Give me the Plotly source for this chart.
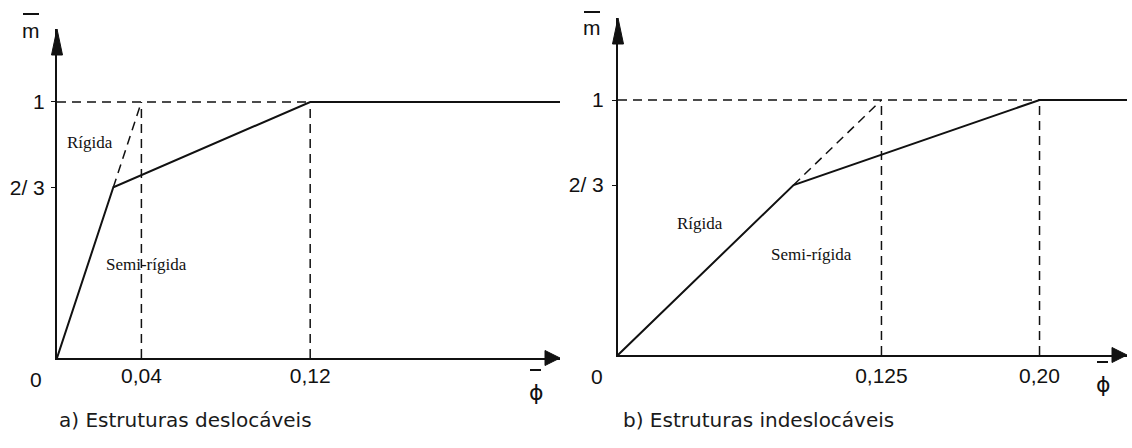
import plotly.graph_objects as go

W, H = 1132, 448

# ---- data -------------------------------------------------------------
# relative moment m̄ levels and their tick labels (shared by both panels)
m_ticks = [2 / 3, 1]
m_tick_text = ["2/ 3", "1"]

# a) sway frames
a_phi_ticks = [0.04, 0.12]
a_phi_tick_text = ["0,04", "0,12"]
a_semi_phi = [0, 0.0267, 0.12, 0.2384]      # semi-rigid / flexible boundary
a_semi_m = [0, 2 / 3, 1, 1]
a_rigid_phi = [0.0267, 0.04]                # rigid boundary beyond 2/3
a_rigid_m = [2 / 3, 1]
a_m_max = 1.285

# b) non-sway frames
b_phi_ticks = [0.125, 0.20]
b_phi_tick_text = ["0,125", "0,20"]
b_semi_phi = [0, 0.0833, 0.20, 0.2415]
b_semi_m = [0, 2 / 3, 1, 1]
b_rigid_phi = [0.0833, 0.125]
b_rigid_m = [2 / 3, 1]
b_m_max = 1.3216

captions = ["a) Estruturas deslocáveis", "b) Estruturas indeslocáveis"]
zone_labels = ["Rígida", "Semi-rígida"]

INK = "#111111"
TICK_FONT = dict(family="Liberation Sans", size=21, color=INK)
ZONE_FONT = dict(family="Liberation Serif", size=17, color=INK)
CAP_FONT = dict(family="DejaVu Sans", size=20, color="#1a1a1a")
DASH = dict(color=INK, width=1.5, dash="9px,6px")

# subplot frames (paper fractions)
a_xdom, a_ydom = [57 / W, 560 / W], [90 / H, 419 / H]
b_xdom, b_ydom = [618 / W, 1127 / W], [93 / H, 430 / H]

fig = go.Figure()


def add_panel(xr, yr, phi_ticks, semi_phi, semi_m, rigid_phi, rigid_m):
    # solid boundary curve
    fig.add_trace(go.Scatter(x=semi_phi, y=semi_m, xaxis=xr, yaxis=yr,
                             mode="lines", line=dict(color=INK, width=2),
                             hoverinfo="skip", showlegend=False))
    # dashed continuation of the rigid limit
    fig.add_trace(go.Scatter(x=rigid_phi, y=rigid_m, xaxis=xr, yaxis=yr,
                             mode="lines", line=DASH,
                             hoverinfo="skip", showlegend=False))
    # dashed reference line m̄ = 1 up to the last limit
    fig.add_trace(go.Scatter(x=[0, phi_ticks[-1]], y=[m_ticks[-1]] * 2,
                             xaxis=xr, yaxis=yr, mode="lines", line=DASH,
                             hoverinfo="skip", showlegend=False))
    # dashed verticals at each limit rotation
    for p in phi_ticks:
        fig.add_trace(go.Scatter(x=[p, p], y=[0, m_ticks[-1]],
                                 xaxis=xr, yaxis=yr, mode="lines", line=DASH,
                                 hoverinfo="skip", showlegend=False))


add_panel("x", "y", a_phi_ticks, a_semi_phi, a_semi_m, a_rigid_phi, a_rigid_m)
add_panel("x2", "y2", b_phi_ticks, b_semi_phi, b_semi_m, b_rigid_phi, b_rigid_m)

axis_common = dict(showgrid=False, zeroline=False, showline=True,
                   linecolor=INK, linewidth=2, tickfont=TICK_FONT, fixedrange=True)

fig.update_layout(
    width=W, height=H,
    margin=dict(l=0, r=0, t=0, b=0),
    paper_bgcolor="white", plot_bgcolor="white",
    showlegend=False,
    xaxis=dict(domain=a_xdom, range=[0, a_semi_phi[-1]], anchor="y",
               tickvals=a_phi_ticks, ticktext=a_phi_tick_text, ticks="",
               ticklabelstandoff=-2, **axis_common),
    yaxis=dict(domain=a_ydom, range=[0, a_m_max], anchor="x",
               tickvals=m_ticks, ticktext=m_tick_text, ticks="outside",
               ticklen=4, tickcolor=INK, ticklabelstandoff=2, **axis_common),
    xaxis2=dict(domain=b_xdom, range=[0, b_semi_phi[-1]], anchor="y2",
                tickvals=b_phi_ticks, ticktext=b_phi_tick_text, ticks="",
                ticklabelstandoff=1, **axis_common),
    yaxis2=dict(domain=b_ydom, range=[0, b_m_max], anchor="x2",
                tickvals=m_ticks, ticktext=m_tick_text, ticks="outside",
                ticklen=4, tickcolor=INK, ticklabelstandoff=4, **axis_common),
)

shapes = []
annotations = []
# (x ref, y ref, x domain, y domain, phi max, m max, m-symbol y shift, phi-symbol y shift)
panels = [
    ("x", "y", a_xdom, a_ydom, a_semi_phi[-1], a_m_max, -1, -34),
    ("x2", "y2", b_xdom, b_ydom, b_semi_phi[-1], b_m_max, -10, -29),
]
for xr, yr, xdom, ydom, xmax, ymax, m_dy, phi_dy in panels:
    ox, oy = xdom[0], ydom[0]          # origin in paper fractions
    tx, ty = xdom[1], ydom[1]          # arrow tips in paper fractions
    # arrowheads on both axes
    shapes.append(dict(type="path", xref="paper", yref="paper", xsizemode="pixel",
                       ysizemode="pixel", xanchor=ox, yanchor=ty,
                       path="M0,0 L-5.5,-26 L5.5,-26 Z",
                       fillcolor=INK, line=dict(color=INK, width=1)))
    shapes.append(dict(type="path", xref="paper", yref="paper", xsizemode="pixel",
                       ysizemode="pixel", xanchor=tx, yanchor=oy,
                       path="M0,0 L-15,7.5 L-15,-7.5 Z",
                       fillcolor=INK, line=dict(color=INK, width=1)))
    # overbars of the axis symbols m̄ and ϕ̄
    shapes.append(dict(type="path", xref="paper", yref="paper", xsizemode="pixel",
                       ysizemode="pixel", xanchor=ox, yanchor=ty,
                       path="M-34,%d L-18,%d" % (m_dy + 16, m_dy + 16),
                       line=dict(color=INK, width=2)))
    shapes.append(dict(type="path", xref="paper", yref="paper", xsizemode="pixel",
                       ysizemode="pixel", xanchor=tx, yanchor=oy,
                       path="M-30,%d L-19,%d" % (phi_dy + 22, phi_dy + 22),
                       line=dict(color=INK, width=2)))
    # axis symbols
    annotations.append(dict(xref=xr, yref=yr, x=0, y=ymax, text="m",
                            showarrow=False, xshift=-26, yshift=m_dy,
                            font=dict(family="Liberation Sans", size=21, color=INK)))
    annotations.append(dict(xref=xr, yref=yr, x=xmax, y=0, text="ϕ",
                            showarrow=False, xshift=-24, yshift=phi_dy,
                            font=dict(family="DejaVu Sans", size=22, color=INK)))
    # origin label
    annotations.append(dict(xref=xr, yref=yr, x=0, y=0, text="0",
                            showarrow=False, xshift=-21, yshift=-21,
                            font=TICK_FONT))

# zone labels
zone_pos = [
    ("x", "y", 0.0156, 0.84, 0.0422, 0.367),
    ("x2", "y2", 0.0389, 0.514, 0.092, 0.396),
]
for xr, yr, rx, ry, sx, sy in zone_pos:
    annotations.append(dict(xref=xr, yref=yr, x=rx, y=ry, text=zone_labels[0],
                            showarrow=False, font=ZONE_FONT))
    annotations.append(dict(xref=xr, yref=yr, x=sx, y=sy, text=zone_labels[1],
                            showarrow=False, font=ZONE_FONT))

# captions
for cap, left in zip(captions, [57, 621]):
    annotations.append(dict(xref="paper", yref="paper", x=left / W, y=(H - 420) / H,
                            xanchor="left", yanchor="middle", text=cap,
                            showarrow=False, font=CAP_FONT))

fig.update_layout(shapes=shapes, annotations=annotations)
fig.write_html("out.html")
